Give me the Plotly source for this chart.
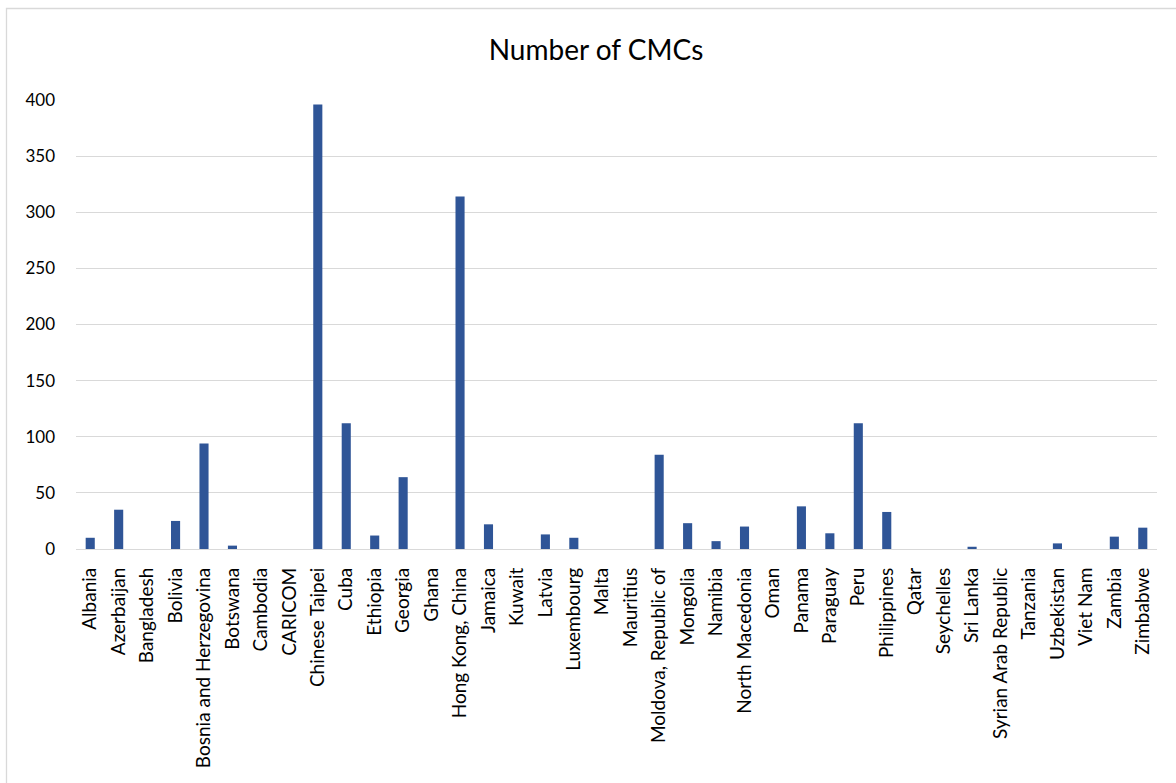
import plotly.graph_objects as go

# Number of CMCs per economy
countries = [
    "Albania", "Azerbaijan", "Bangladesh", "Bolivia", "Bosnia and Herzegovina",
    "Botswana", "Cambodia", "CARICOM", "Chinese Taipei", "Cuba", "Ethiopia",
    "Georgia", "Ghana", "Hong Kong, China", "Jamaica", "Kuwait", "Latvia",
    "Luxembourg", "Malta", "Mauritius", "Moldova, Republic of", "Mongolia",
    "Namibia", "North Macedonia", "Oman", "Panama", "Paraguay", "Peru",
    "Philippines", "Qatar", "Seychelles", "Sri Lanka", "Syrian Arab Republic",
    "Tanzania", "Uzbekistan", "Viet Nam", "Zambia", "Zimbabwe",
]
cmc_counts = [
    10, 35, 0, 25, 94,
    3, 0, 0, 396, 112, 12,
    64, 0, 314, 22, 0, 13,
    10, 0, 0, 84, 23,
    7, 20, 0, 38, 14, 112,
    33, 0, 0, 2, 0,
    0, 5, 0, 11, 19,
]
y_ticks = [0, 50, 100, 150, 200, 250, 300, 350, 400]

W, H = 1176, 783
L, R, T, B = 76, 19, 100, 234
pw, ph = W - L - R, H - T - B

FONT = "Lato, 'Open Sans', sans-serif"
GRID = "#D9D9D9"

fig = go.Figure(
    go.Bar(
        x=countries,
        y=cmc_counts,
        marker=dict(color="#2F5597", line=dict(width=0)),
        hoverinfo="x+y",
    )
)

# Chart-area frame around the whole figure
fig.add_shape(
    type="rect", xref="paper", yref="paper",
    x0=(6.5 - L) / pw, x1=(W + 10 - L) / pw,
    y0=(T + ph - (H + 10)) / ph, y1=(T + ph - 8.5) / ph,
    line=dict(color=GRID, width=1.3), fillcolor="rgba(0,0,0,0)", layer="below",
)

fig.update_layout(
    width=W, height=H,
    margin=dict(l=L, r=R, t=T, b=B, pad=0),
    paper_bgcolor="white", plot_bgcolor="white",
    bargap=0.68,
    showlegend=False,
    title=dict(
        text="Number of CMCs",
        x=596 / W, xanchor="center", xref="container",
        y=1 - 50 / H, yanchor="middle", yref="container",
        font=dict(family=FONT, size=28, color="#000000"),
    ),
    font=dict(family=FONT, color="#000000"),
)

fig.update_xaxes(
    tickangle=-90,
    tickfont=dict(family=FONT, size=19, color="#000000"),
    showgrid=False,
    showline=True, linecolor=GRID, linewidth=1.3,
    ticks="", ticklabelstandoff=10,
)
fig.update_yaxes(
    range=[0, 400],
    tickvals=y_ticks,
    tickfont=dict(family=FONT, size=17, color="#000000"),
    showgrid=True, gridcolor=GRID, gridwidth=1.3,
    zeroline=False, showline=False,
    ticks="", ticklabelstandoff=20,
)

fig.write_html("out.html")
